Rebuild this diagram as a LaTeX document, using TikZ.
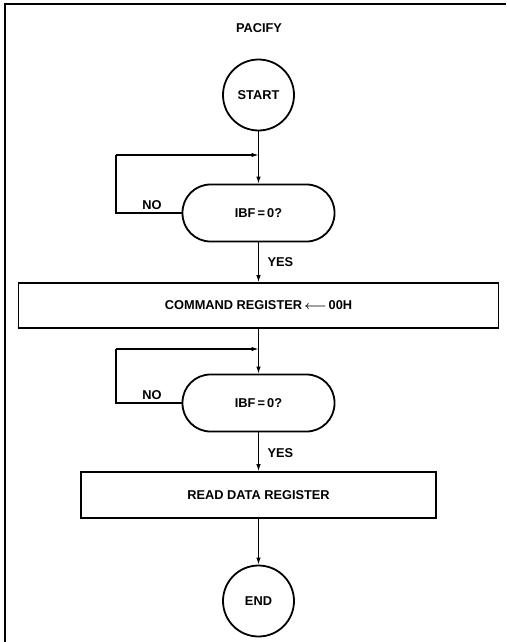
\documentclass[tikz,border=0pt]{standalone}
\usepackage{amsmath}
\usepackage{fontspec}
\setmainfont{Liberation Sans}
\usetikzlibrary{arrows.meta}
\tikzset{
    term/.style={draw, line width=1.8pt, circle, minimum size=71pt, inner sep=0pt},
    test/.style={draw, line width=1.8pt, rectangle, rounded corners=28pt, minimum width=152pt, minimum height=57pt},
    proc/.style={draw, line width=1.8pt, rectangle, minimum height=45pt},
    flow/.style={line width=1.1pt, -{Latex[length=7pt,width=4.5pt]}},
    txt/.style={font=\bfseries\fontsize{12.8}{15}\selectfont}
}
\begin{document}
\begin{tikzpicture}[x=1pt,y=-1pt]
    \useasboundingbox (0,0) rectangle (506,642);
    % frame
    \draw[line width=1.6pt] (506,4) -- (5,4) -- (5,642);
    \node[txt] (title) at (259,28) {PACIFY};
    % start and first test
    \node[term,txt] (start) at (258.5,95) {START};
    \node[test,txt] (wait1) at (258.5,213) {IBF\,=\,0?};
    \coordinate (back1) at (116,155);
    \draw[flow] (start) -- (wait1);
    \draw[line width=1.1pt] (wait1.west) -| (back1);
    \draw[flow] (back1) -- (back1 -| start.south);
    \node[txt] (no1) at (152,205) {NO};
    % command register
    \node[proc,txt,minimum width=480pt] (cmd) at (258.5,305.5) {COMMAND REGISTER\,$\boldsymbol{\longleftarrow}$\,00H};
    \draw[flow] (wait1) -- (cmd);
    \node[txt,anchor=west] (yes1) at (264,262) {YES};
    % second test
    \node[test,txt] (wait2) at (258.5,403) {IBF\,=\,0?};
    \coordinate (back2) at (116,349);
    \draw[flow] (cmd) -- (wait2);
    \draw[line width=1.1pt] (wait2.west) -| (back2);
    \draw[flow] (back2) -- (back2 -| cmd.south);
    \node[txt] (no2) at (152,395) {NO};
    % read data register and end
    \node[proc,txt,minimum width=355pt,minimum height=46pt] (rd) at (258.5,495) {READ DATA REGISTER};
    \draw[flow] (wait2) -- (rd);
    \node[txt,anchor=west] (yes2) at (264,453) {YES};
    \node[term,txt] (stop) at (258.5,601) {END};
    \draw[flow] (rd) -- (stop);
\end{tikzpicture}
\end{document}
